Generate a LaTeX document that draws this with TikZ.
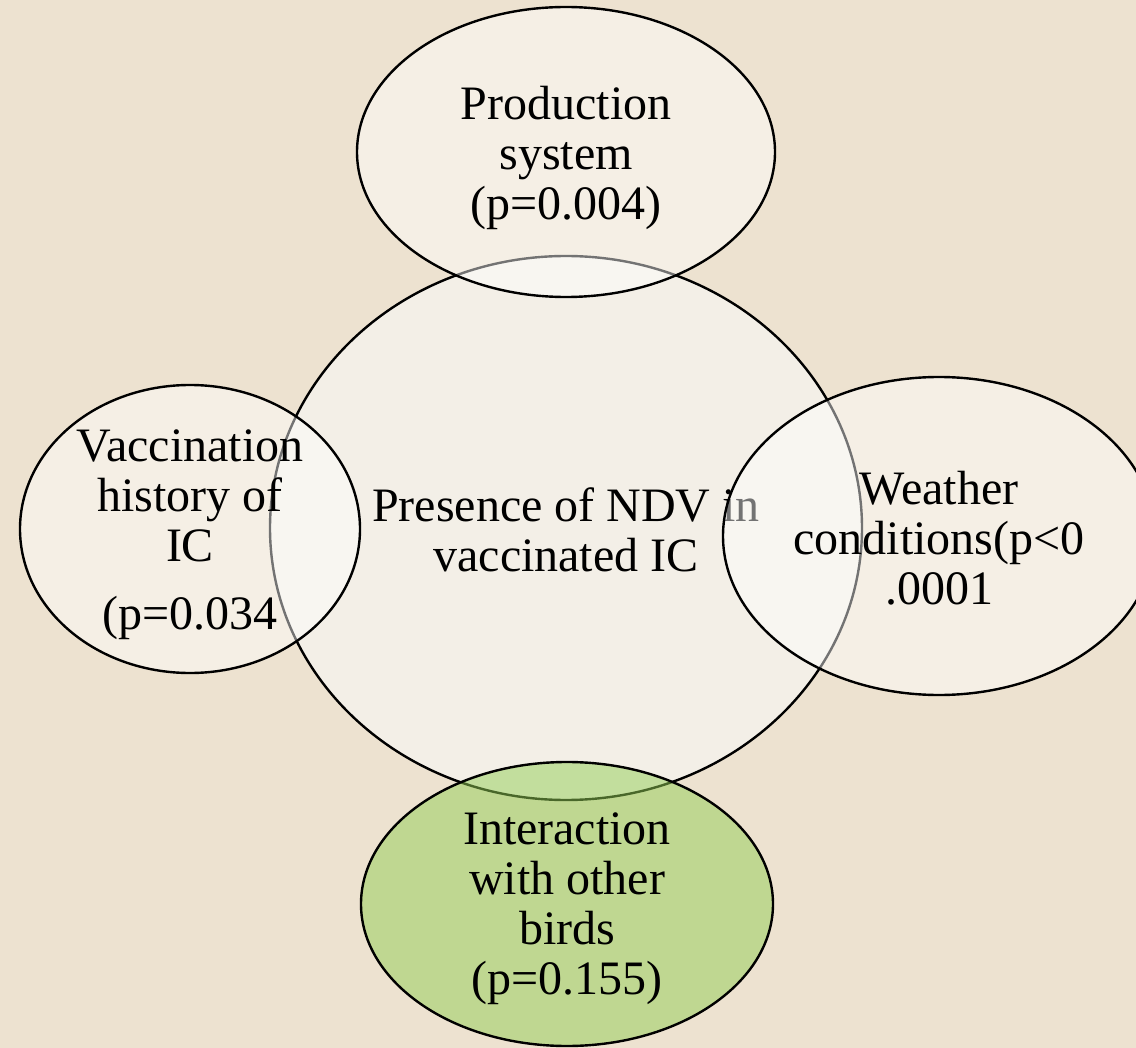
\documentclass[tikz,border=0pt]{standalone}
\usepackage{fontspec}
\setmainfont{Liberation Serif}
\usetikzlibrary{shapes.geometric}
\definecolor{paper}{HTML}{EDE2D0}
\definecolor{cream}{HTML}{F3EFE7}
\definecolor{leaf}{HTML}{93CE54}

\begin{document}
\begin{tikzpicture}[x=0.5pt, y=-0.5pt, line width=1.2pt,
  factor/.style={ellipse, draw, inner sep=0pt, fill=white, fill opacity=0.45},
  factortext/.style={align=center, font=\fontsize{24}{25}\selectfont}]
  % background
  \fill[paper] (0,0) rectangle (1136,1048);
  \useasboundingbox (0,0) rectangle (1136,1048);
  % centre
  \node[ellipse,draw,fill=cream,inner sep=0pt,minimum width=296pt,minimum height=272pt] (ndv) at (566,528) {};
  \node[factortext] (ndvtext) at (566,530) {Presence of NDV in\\vaccinated IC};
  % top
  \node[factor,minimum width=209pt,minimum height=145pt] (prod) at (566,152) {};
  \node[factortext] (prodtext) at (566,158) {Production\\system\\(p=0.004)};
  % left
  \node[factor,minimum width=170pt,minimum height=144pt] (vacc) at (190,529) {};
  \node[factortext] (vacctext) at (190,535) {Vaccination\\history of\\IC\\[9pt](p=0.034};
  % right
  \node[factor,minimum width=216pt,minimum height=159pt] (weather) at (939,536) {};
  \node[factortext] (weathertext) at (939,538) {Weather\\conditions(p<0\\.0001};
  % bottom
  \node[factor,fill=leaf,fill opacity=0.5,minimum width=206pt,minimum height=142pt] (birds) at (567,904) {};
  \node[factortext] (birdstext) at (567,909) {Interaction\\with other\\birds\\(p=0.155)};
\end{tikzpicture}
\end{document}
